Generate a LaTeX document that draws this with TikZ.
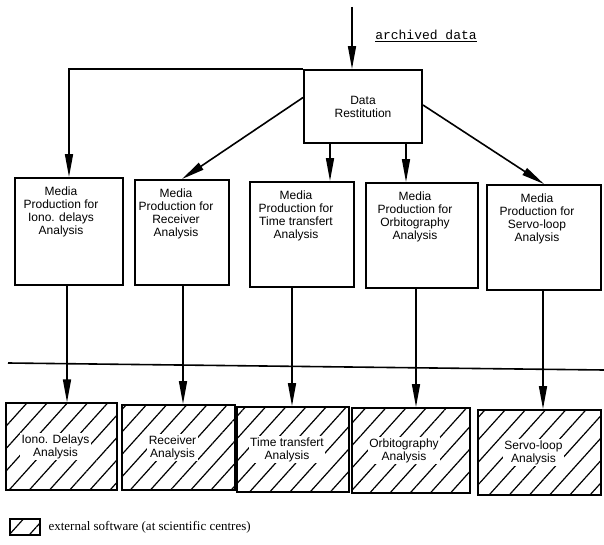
\documentclass[tikz,border=0pt]{standalone}
\usepackage{fontspec}
\setmainfont{Liberation Serif}
\newfontfamily\boxfont{Liberation Sans}
\newfontfamily\typefont{Liberation Mono}
\usetikzlibrary{arrows.meta,patterns.meta}

\tikzset{
  mediabox/.style={draw, line width=1.9pt, inner sep=0pt},
  hatchbox/.style={draw, line width=1.9pt, inner sep=0pt,
    pattern={Lines[angle=48,distance=15pt,line width=1.2pt]}},
  boxtext/.style={font=\boxfont\fontsize{12}{13}\selectfont, align=center, inner sep=1pt},
  hatchtext/.style={boxtext, fill=white, inner sep=1.5pt},
  arr/.style={line width=1.6pt, -{Triangle[length=23pt,width=8pt]}},
}

\begin{document}
\begin{tikzpicture}[x=1pt, y=-1pt]

 \useasboundingbox (0,0) rectangle (604,545);

 %%%%%%%%%% Data restitution %%%%%%%%%%
 \node[mediabox, minimum width=118pt, minimum height=73pt, boxtext, inner sep=0pt] (dr) at (363,106.5) {Data\\Restitution};
 \coordinate (arcIn) at (352,7);
 \node[font=\typefont\fontsize{13}{15}\selectfont] (arc) at (426,36) {\underline{archived data}};

 %%%%%%%%%% Media production %%%%%%%%%%
 \node[mediabox, minimum width=108pt, minimum height=107pt] (mp1) at (69,231.5) {};
 \node[mediabox, minimum width=94pt, minimum height=105pt] (mp2) at (182,232.5) {};
 \node[mediabox, minimum width=104pt, minimum height=105pt] (mp3) at (302,234.5) {};
 \node[mediabox, minimum width=112pt, minimum height=105pt] (mp4) at (422,235.5) {};
 \node[mediabox, minimum width=114pt, minimum height=105pt] (mp5) at (544,237.5) {};

 \node[boxtext, anchor=north] (mp1t) at ([xshift=-8pt,yshift=-9pt]mp1.north) {Media\\Production for\\Iono. delays\\Analysis};
 \node[boxtext, anchor=north] (mp2t) at ([xshift=-6pt,yshift=-9pt]mp2.north) {Media\\Production for\\Receiver\\Analysis};
 \node[boxtext, anchor=north] (mp3t) at ([xshift=-6pt,yshift=-9pt]mp3.north) {Media\\Production for\\Time transfert\\Analysis};
 \node[boxtext, anchor=north] (mp4t) at ([xshift=-7pt,yshift=-9pt]mp4.north) {Media\\Production for\\Orbitography\\Analysis};
 \node[boxtext, anchor=north] (mp5t) at ([xshift=-7pt,yshift=-9pt]mp5.north) {Media\\Production for\\Servo-loop\\Analysis};

 %%%%%%%%%% External analysis %%%%%%%%%%
 \node[hatchbox, minimum width=111pt, minimum height=87pt] (ha1) at (61.5,446.5) {};
 \node[hatchbox, minimum width=113pt, minimum height=85pt] (ha2) at (178.5,447.5) {};
 \node[hatchbox, minimum width=112pt, minimum height=85pt] (ha3) at (293,449.5) {};
 \node[hatchbox, minimum width=118pt, minimum height=85pt] (ha4) at (411,450.5) {};
 \node[hatchbox, minimum width=123pt, minimum height=85pt] (ha5) at (539.5,452.5) {};

 \node[hatchtext] (ha1t) at ([xshift=-6pt]ha1.center) {Iono. Delays\\Analysis};
 \node[hatchtext] (ha2t) at ([xshift=-6pt]ha2.center) {Receiver\\Analysis};
 \node[hatchtext] (ha3t) at ([xshift=-6pt]ha3.center) {Time transfert\\Analysis};
 \node[hatchtext] (ha4t) at ([xshift=-7pt]ha4.center) {Orbitography\\Analysis};
 \node[hatchtext] (ha5t) at ([xshift=-6pt]ha5.center) {Servo-loop\\Analysis};

 %%%%%%%%%% Arrows from the restitution %%%%%%%%%%
 \draw[arr] (arcIn) -- (arcIn |- dr.north);
 \draw[arr] (dr.north west) -| (mp1.north);
 \draw[arr] ([yshift=9pt]dr.west) -- (mp2.north);
 \draw[arr] ([xshift=-33pt]dr.south) -- ([xshift=-33pt]dr.south |- mp3.north);
 \draw[arr] ([xshift=43pt]dr.south) -- ([xshift=43pt]dr.south |- mp4.north);
 \draw[arr] ([yshift=1.5pt]dr.east) -- (mp5.north);

 %%%%%%%%%% Arrows to the external software %%%%%%%%%%
 \draw[arr] ([xshift=-2pt]mp1.south) -- ([xshift=-2pt]mp1.south |- ha1.north);
 \draw[arr] ([xshift=1pt]mp2.south) -- ([xshift=1pt]mp2.south |- ha2.north);
 \draw[arr] ([xshift=-10pt]mp3.south) -- ([xshift=-10pt]mp3.south |- ha3.north);
 \draw[arr] ([xshift=-6pt]mp4.south) -- ([xshift=-6pt]mp4.south |- ha4.north);
 \draw[arr] ([xshift=-1pt]mp5.south) -- ([xshift=-1pt]mp5.south |- ha5.north);

 % separation line
 \coordinate (sepL) at (8,363);
 \coordinate (sepR) at (604,370);
 \draw[line width=1.6pt] (sepL) -- (sepR);

 %%%%%%%%%% Legend %%%%%%%%%%
 \node[hatchbox, line width=1.5pt, minimum width=30pt, minimum height=16pt] (key) at (25,527) {};
 \node[anchor=west, font=\fontsize{13}{15}\selectfont] (keyt) at (45,527) {external software (at scientific centres)};

\end{tikzpicture}
\end{document}
